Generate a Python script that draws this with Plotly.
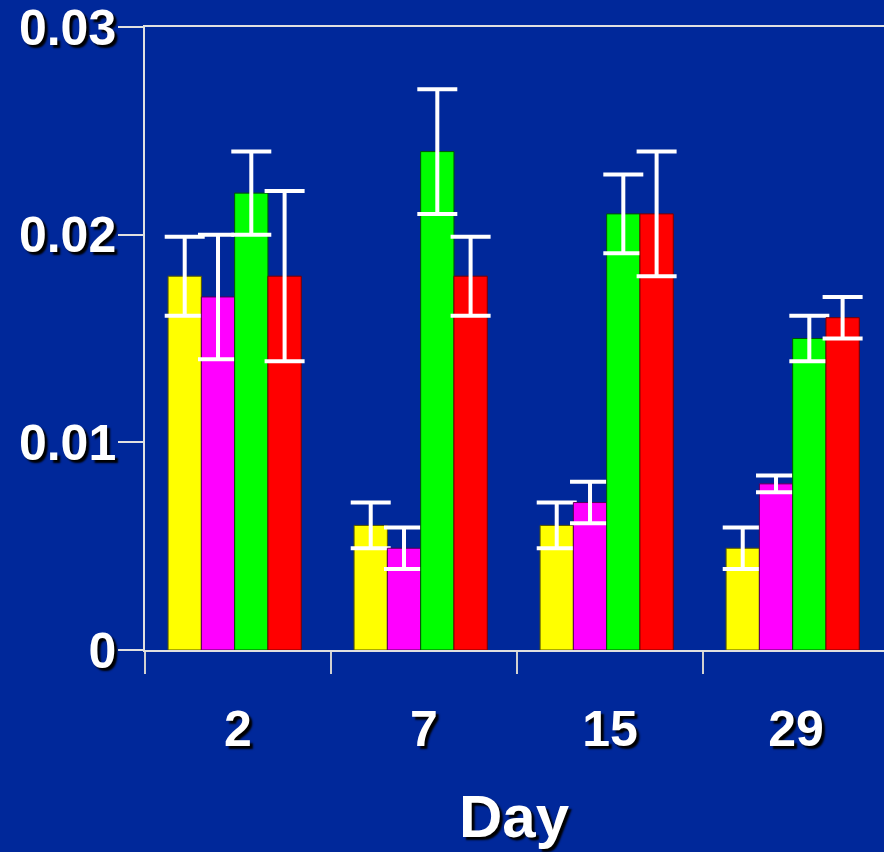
import plotly.graph_objects as go

days = ["2", "7", "15", "29"]
yellow = [0.018, 0.006, 0.006, 0.0049]
yellow_err = [0.0019, 0.0011, 0.0011, 0.001]
magenta = [0.017, 0.0049, 0.0071, 0.0080]
magenta_err = [0.003, 0.001, 0.001, 0.0004]
green = [0.022, 0.024, 0.021, 0.015]
green_err = [0.002, 0.003, 0.0019, 0.0011]
red = [0.018, 0.018, 0.021, 0.016]
red_err = [0.0041, 0.0019, 0.003, 0.001]

y_ticks = [0, 0.01, 0.02, 0.03]
y_ticklabels = ["0", "0.01", "0.02", "0.03"]

bg = "#00289a"
shadow = "3px 3px 2px #000000"

bar_w = 0.179
series = [
    (yellow, yellow_err, "#ffff00", "#555500", -0.376),
    (magenta, magenta_err, "#ff00ff", "#550055", -0.197),
    (green, green_err, "#00ff00", "#005500", -0.018),
    (red, red_err, "#ff0000", "#770000", 0.161),
]

fig = go.Figure()
for vals, errs, col, edge, off in series:
    fig.add_trace(go.Bar(
        x=days, y=vals, width=bar_w, offset=off,
        marker=dict(color=col, line=dict(color=edge, width=1)),
        error_y=dict(type="data", array=errs, visible=True,
                     color="white", thickness=4, width=20),
        showlegend=False,
    ))

fig.update_layout(
    width=884, height=852,
    paper_bgcolor=bg, plot_bgcolor=bg,
    margin=dict(l=145, r=0, t=27, b=202),
    barmode="group",
    font=dict(family="Liberation Sans, Arial, sans-serif", color="white"),
    xaxis=dict(
        type="category", range=[-0.5, 3.473],
        showline=True, linecolor="#e0e0e0", linewidth=1.5, mirror=True,
        ticks="outside", tickson="boundaries", ticklen=22, tickwidth=1.5,
        tickcolor="#d0d0d0", showgrid=False, zeroline=False,
        tickfont=dict(size=50, color="white", weight="bold", shadow=shadow),
        ticklabelstandoff=34,
    ),
    yaxis=dict(
        range=[0, 0.03], tickvals=y_ticks, ticktext=y_ticklabels,
        showline=True, linecolor="#e0e0e0", linewidth=1.5,
        ticks="outside", ticklen=25, tickwidth=1.5, tickcolor="#e0e0e0",
        showgrid=False, zeroline=False,
        tickfont=dict(size=50, color="white", weight="bold", shadow=shadow),
        ticklabelstandoff=-8, ticklabeloverflow="allow",
    ),
    annotations=[dict(
        text="Day", xref="paper", yref="paper", x=0.5, y=-0.211,
        xanchor="center", yanchor="top", showarrow=False,
        font=dict(size=60, color="white", weight="bold", shadow=shadow,
                  family="Liberation Sans, Arial, sans-serif"),
    )],
)

fig.write_html("out.html", config={"displayModeBar": False})

with open("out.html", "r", encoding="utf-8") as f:
    html = f.read()
html = html.replace("<head>", "<head><style>html,body{margin:0;padding:0;background:%s;}</style>" % bg, 1)
with open("out.html", "w", encoding="utf-8") as f:
    f.write(html)
